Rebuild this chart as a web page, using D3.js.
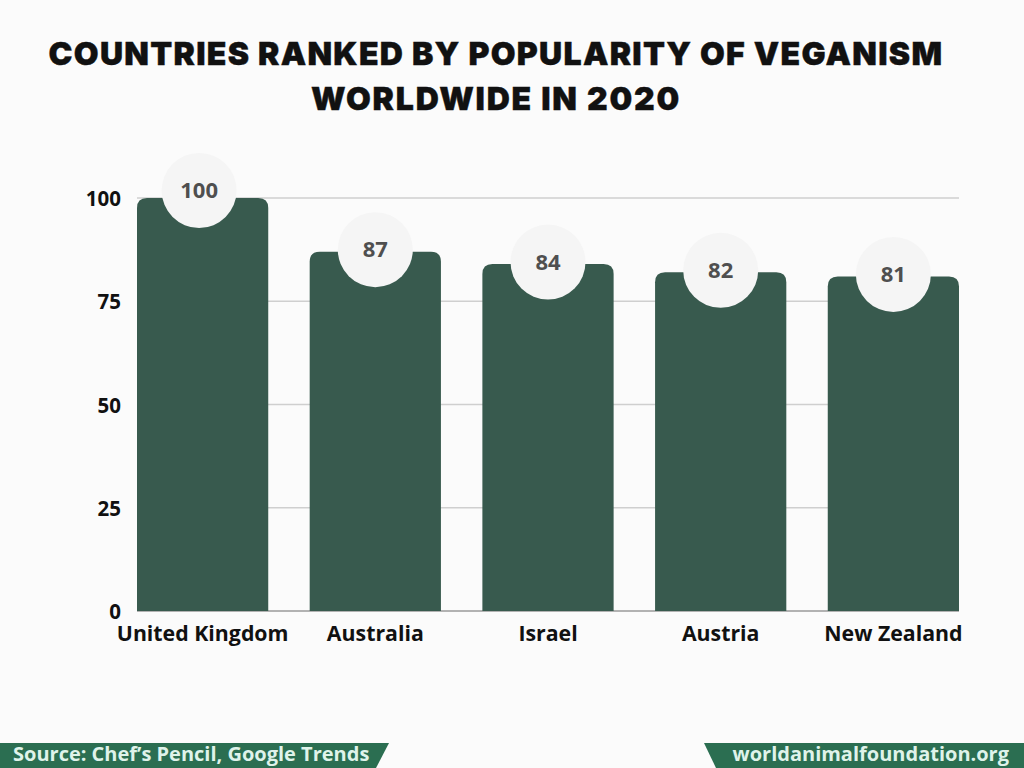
<!DOCTYPE html>
<html>
<head>
<meta charset="utf-8">
<script src="https://cdn.jsdelivr.net/npm/d3@7"></script>
<style>
  html, body { margin: 0; padding: 0; background: #fbfbfb; }
  svg { display: block; }
  text { font-family: "Open Sans", sans-serif; font-weight: 700; }
</style>
</head>
<body>
<svg id="chart" width="1024" height="768"></svg>
<script>
const countries = ['United Kingdom', 'Australia', 'Israel', 'Austria', 'New Zealand'];
const scores = [100, 87, 84, 82, 81];
const yTicks = [0, 25, 50, 75, 100];
const titleLines = ['COUNTRIES RANKED BY POPULARITY OF VEGANISM', 'WORLDWIDE IN 2020'];
const sourceText = 'Source: Chef\u2019s Pencil, Google Trends';
const siteText = 'worldanimalfoundation.org';

const svg = d3.select('#chart');

const x = d3.scaleBand().domain(countries).range([137, 959]).paddingInner(0.24).paddingOuter(0);
const y = d3.scaleLinear().domain([0, 100]).range([611, 198]);

// Title
svg.append('g').selectAll('text')
    .data(titleLines)
    .enter()
    .append('text')
    .attr('x', 496)
    .attr('y', (d, i) => 65 + i * 45)
    .attr('text-anchor', 'middle')
    .style('font-family', 'Inter, sans-serif')
    .style('font-weight', 900)
    .style('font-size', '32px')
    .style('letter-spacing', (d, i) => i === 0 ? '1.3px' : '1.8px')
    .attr('fill', '#111')
    .attr('stroke', '#111')
    .attr('stroke-width', 0.4)
    .text(d => d);

// Grid
svg.append('g').selectAll('line')
    .data(yTicks)
    .enter()
    .append('line')
    .attr('x1', 137)
    .attr('x2', 959)
    .attr('y1', d => y(d))
    .attr('y2', d => y(d))
    .attr('stroke', d => d === 0 ? '#9a9a9a' : '#cfcfcf')
    .attr('stroke-width', 1.5);

// Y axis labels
const yAxis = svg.append('g')
    .attr('transform', 'translate(121,1)')
    .call(d3.axisLeft(y).tickValues(yTicks).tickSize(0).tickPadding(0));
yAxis.select('.domain').remove();
yAxis.selectAll('text')
    .style('font-family', '"Open Sans", sans-serif')
    .style('font-weight', 700)
    .style('font-size', '20.5px')
    .attr('fill', '#111');

// X axis labels
const xAxis = svg.append('g')
    .attr('transform', 'translate(0,626)')
    .call(d3.axisBottom(x).tickSize(0).tickPadding(0));
xAxis.select('.domain').remove();
xAxis.selectAll('text')
    .style('font-family', '"Open Sans", sans-serif')
    .style('font-weight', 700)
    .style('font-size', '21.3px')
    .attr('fill', '#111');

// Bars, rounded on top only
const radius = 10;
function barPath(d, i) {
    const x0 = x(countries[i]);
    const x1 = x0 + x.bandwidth();
    const top = y(d);
    const bottom = y(0);
    return `M${x0},${bottom}V${top + radius}Q${x0},${top} ${x0 + radius},${top}` +
        `H${x1 - radius}Q${x1},${top} ${x1},${top + radius}V${bottom}Z`;
}
svg.append('g').selectAll('path')
    .data(scores)
    .enter()
    .append('path')
    .attr('d', barPath)
    .attr('fill', '#385a4e');

// Bubbles with the values
const bubbleX = (i) => x(countries[i]) + x.bandwidth() / 2 + (i === 0 ? -3.5 : 0);
const bubbleY = (d, i) => y(d) - (i === 0 ? 7.5 : 2);

svg.append('g').selectAll('circle')
    .data(scores)
    .enter()
    .append('circle')
    .attr('cx', (d, i) => bubbleX(i))
    .attr('cy', bubbleY)
    .attr('r', 37.5)
    .attr('fill', '#f5f5f5');

svg.append('g').selectAll('text')
    .data(scores)
    .enter()
    .append('text')
    .attr('x', (d, i) => bubbleX(i))
    .attr('y', (d, i) => bubbleY(d, i))
    .attr('dy', '0.35em')
    .attr('text-anchor', 'middle')
    .style('font-size', '22px')
    .attr('fill', '#4f4f4f')
    .text(d => d);

// Footer ribbons
const ribbon = '#2b6e51';
const ribbonTop = 743;
svg.append('polygon')
    .attr('points', `0,${ribbonTop} 389,${ribbonTop} 376,768 0,768`)
    .attr('fill', ribbon);
svg.append('polygon')
    .attr('points', `704,${ribbonTop} 1024,${ribbonTop} 1024,768 716,768`)
    .attr('fill', ribbon);

svg.append('text')
    .attr('x', 13)
    .attr('y', 761)
    .style('font-size', '20px')
    .attr('fill', '#dff3ea')
    .text(sourceText);
svg.append('text')
    .attr('x', 1009)
    .attr('y', 761)
    .attr('text-anchor', 'end')
    .style('font-size', '20px')
    .attr('fill', '#dff3ea')
    .text(siteText);
</script>
</body>
</html>
